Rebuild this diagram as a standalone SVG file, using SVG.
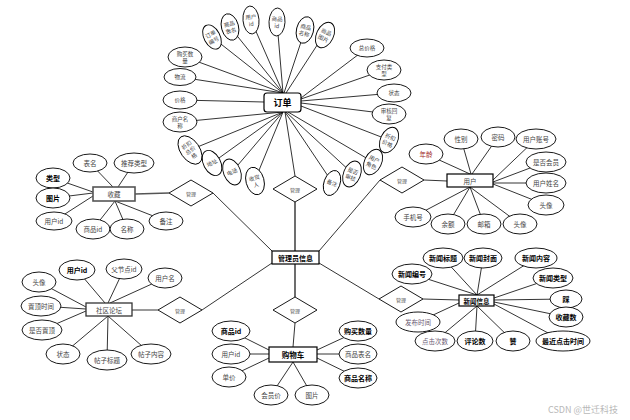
<svg xmlns="http://www.w3.org/2000/svg" width="630" height="420" viewBox="0 0 630 420">
<style>
ellipse{fill:#fff;stroke:#000;stroke-width:0.9}
.d{fill:#fff;stroke:#000;stroke-width:0.9}
text{font-family:"Noto Sans CJK SC","Noto Sans",sans-serif;text-anchor:middle;dominant-baseline:central}
.t{font-size:6.5px;fill:#444}
.s{font-size:5.5px;fill:#444}
.b{font-size:7px;fill:#000;font-weight:bold}
.m{font-size:5px;fill:#555}
.ln{stroke:#000;stroke-width:0.8;fill:none}
.lg{stroke:#555;stroke-width:1.7;fill:none}
.box{fill:#fff;stroke:#000;stroke-width:1.2}
</style>
<rect width="630" height="420" fill="#fff"/>
<g id="connectors">
<!-- 订单 -->
<path class="ln" d="M212,37L283,93M230,27L283,93M251,20L283,93M277,22L283,93M305,30L284,93M325,33L286,93M185,57L283,93M180,77L283,93M180,100L264,102"/>
<path class="ln" d="M180,122L283,112M190,150L283,112M212,163L283,112M232,172L283,112M255,180L283,112M332,182L285,112M352,173L286,112M373,162L288,112"/>
<path class="ln" d="M367,48L301,98M384,70L301,99M394,93L301,101M389,114L301,103M389,140L301,106"/>
<!-- 收藏 -->
<path class="ln" d="M90,163L113,187M134,163L118,187M53,178L93,192M53,198L93,193M54,221L93,196M93,229L115,201M127,229L115,201M166,221L115,201"/>
<!-- 用户 -->
<path class="ln" d="M426,154L470,174M461,139L471,174M498,137L472,174M536,139L493,180M546,162L493,182M546,183L493,183M546,205L493,184M413,217L470,187M448,224L470,187M484,224L470,187M520,224L470,187"/>
<!-- 社区论坛 -->
<path class="ln" d="M77,270L105,303M124,269L108,303M165,278L110,303M39,282L86,307M41,306L86,309M42,330L86,311M63,354L108,316M107,360L108,316M151,354L108,316"/>
<!-- 购物车 -->
<path class="ln" d="M231,331L269,350M231,354L269,354M229,377L269,358M271,395L293,362M312,395L293,362M358,331L317,350M358,354L317,354M358,378L317,358"/>
<!-- 新闻信息 -->
<path class="ln" d="M412,274L477,295M443,258L477,295M483,258L477,295M536,258L477,295M553,278L494,298M566,299L494,300M566,317L494,302M563,341L494,304M418,322L459,303M435,341L477,306M475,341L477,306M513,341L477,306"/>
<!-- 管理 -->
<path class="lg" d="M135,194L169,193"/>
<path class="ln" d="M285,112L295,176M447,181L424,180M132,310L158,310M293,347L295,323M459,300L423,299"/>
<path class="ln" d="M213,193L272,251M380,180L319,251M202,310L272,263M379,299L319,263"/>
<path class="lg" d="M295,202L295,251M295,263L295,297"/>
</g>
<g id="rel-dingdan"><polygon class="d" points="273,189 295,176 317,189 295,202"/><text class="m" x="295" y="189">管理</text></g>
<g id="rel-shoucang"><polygon class="d" points="169,193 191,180 213,193 191,206"/><text class="m" x="191" y="193">管理</text></g>
<g id="rel-yonghu"><polygon class="d" points="380,180 402,167 424,180 402,193"/><text class="m" x="402" y="180">管理</text></g>
<g id="rel-luntan"><polygon class="d" points="158,310 180,297 202,310 180,323"/><text class="m" x="180" y="310">管理</text></g>
<g id="rel-gouwuche"><polygon class="d" points="273,310 295,297 317,310 295,323"/><text class="m" x="295" y="310">管理</text></g>
<g id="rel-xinwen"><polygon class="d" points="379,299 401,286 423,299 401,312"/><text class="m" x="401" y="299">管理</text></g>

<g id="admin"><rect x="272" y="251" width="47" height="13" class="box" stroke-width="1.4"/><text class="b" x="295.5" y="257.5">管理员信息</text></g>

<g id="dingdan">
<rect x="264" y="93" width="37" height="19" rx="3" class="box" stroke-width="1.3"/><text class="b" x="282.5" y="102.5" style="font-size:9px">订单</text>
<g transform="translate(212,37) rotate(-28)"><ellipse rx="8" ry="13"/><text class="s" y="-3">订单</text><text class="s" y="4">编号</text></g>
<g transform="translate(230,27) rotate(-15)"><ellipse rx="8.5" ry="13.5"/><text class="s" y="-3">商品</text><text class="s" y="4">表名</text></g>
<g transform="translate(251,20) rotate(-5)"><ellipse rx="8" ry="14"/><text class="s" y="-3">用户</text><text class="s" y="4">id</text></g>
<g transform="translate(277,22) rotate(3)"><ellipse rx="8" ry="14"/><text class="s" y="-3">商品</text><text class="s" y="4">id</text></g>
<g transform="translate(305,30) rotate(14)"><ellipse rx="8.5" ry="13.5"/><text class="s" y="-3">商品</text><text class="s" y="4">名称</text></g>
<g transform="translate(325,35) rotate(25)"><ellipse rx="8.5" ry="13.5"/><text class="s" y="-3">商品</text><text class="s" y="4">图片</text></g>
<ellipse cx="367" cy="48" rx="17" ry="9"/><text class="s" x="367" y="48">总价格</text>
<ellipse cx="384" cy="70" rx="17" ry="10"/><text class="s" x="384" y="66.5">支付类</text><text class="s" x="384" y="73.5">型</text>
<ellipse cx="394" cy="93" rx="17" ry="9"/><text class="s" x="394" y="93">状态</text>
<ellipse cx="389" cy="114" rx="17" ry="10"/><text class="s" x="389" y="110.5">审核回</text><text class="s" x="389" y="117.5">复</text>
<g transform="translate(389,140) rotate(25)"><ellipse rx="8.5" ry="13.5"/><text class="s" y="-3">折扣</text><text class="s" y="4">价格</text></g>
<g transform="translate(373,162) rotate(25)"><ellipse rx="8.5" ry="13.5"/><text class="s" y="-3">用户</text><text class="s" y="4">角色</text></g>
<g transform="translate(352,174) rotate(22)"><ellipse rx="8.5" ry="13.5"/><text class="s" y="-3">是否</text><text class="s" y="4">审核</text></g>
<g transform="translate(332,183) rotate(20)"><ellipse rx="8" ry="13"/><text class="s">备注</text></g>
<g transform="translate(255,181) rotate(-15)"><ellipse rx="9" ry="14"/><text class="s" y="-3">收货</text><text class="s" y="4">人</text></g>
<g transform="translate(232,172) rotate(-22)"><ellipse rx="8.5" ry="13.5"/><text class="s">电话</text></g>
<g transform="translate(212,163) rotate(-28)"><ellipse rx="8.5" ry="13.5"/><text class="s">地址</text></g>
<g transform="translate(190,150) rotate(-35)"><ellipse rx="9.5" ry="16"/><text class="s" y="-6">折扣</text><text class="s" y="0.5">总价</text><text class="s" y="7">格</text></g>
<ellipse cx="180" cy="122" rx="17" ry="10"/><text class="s" x="180" y="118.5">商户名</text><text class="s" x="180" y="125.5">称</text>
<ellipse cx="180" cy="100" rx="17" ry="9"/><text class="s" x="180" y="100">价格</text>
<ellipse cx="180" cy="77" rx="16" ry="8.5"/><text class="s" x="180" y="77">物流</text>
<ellipse cx="185" cy="57" rx="17" ry="10"/><text class="s" x="185" y="53.5">购买数</text><text class="s" x="185" y="60.5">量</text>
</g>

<g id="shoucang">
<rect x="93" y="187" width="42" height="14" fill="#fff" stroke="#555" stroke-width="1.6"/><text class="t" x="114" y="194">收藏</text>
<ellipse cx="90" cy="163" rx="17" ry="9"/><text class="t" x="90" y="163">表名</text>
<ellipse cx="134" cy="163" rx="20" ry="10"/><text class="t" x="134" y="163">推荐类型</text>
<ellipse cx="53" cy="178" rx="17" ry="10"/><text class="b" x="53" y="178">类型</text>
<ellipse cx="53" cy="198" rx="17" ry="10"/><text class="b" x="53" y="198">图片</text>
<ellipse cx="54" cy="221" rx="18" ry="9"/><text class="t" x="54" y="221">用户id</text>
<ellipse cx="93" cy="229" rx="17" ry="10"/><text class="t" x="93" y="229">商品id</text>
<ellipse cx="127" cy="229" rx="17" ry="10"/><text class="t" x="127" y="229">名称</text>
<ellipse cx="166" cy="221" rx="17" ry="9"/><text class="t" x="166" y="221">备注</text>
</g>

<g id="yonghu">
<rect x="447" y="174" width="46" height="13" class="box" stroke-width="1"/><text class="t" x="470" y="180.5">用户</text>
<ellipse cx="426" cy="154" rx="17" ry="10"/><text class="t" x="426" y="154" style="fill:#a02828">年龄</text>
<ellipse cx="461" cy="139" rx="17" ry="10"/><text class="t" x="461" y="139">性别</text>
<ellipse cx="498" cy="137" rx="17" ry="10"/><text class="t" x="498" y="137">密码</text>
<ellipse cx="536" cy="139" rx="20" ry="10"/><text class="t" x="536" y="139">用户账号</text>
<ellipse cx="546" cy="162" rx="20" ry="10"/><text class="t" x="546" y="162">是否会员</text>
<ellipse cx="546" cy="183" rx="20" ry="10"/><text class="t" x="546" y="183">用户姓名</text>
<ellipse cx="546" cy="205" rx="18" ry="10"/><text class="t" x="546" y="205">头像</text>
<ellipse cx="413" cy="217" rx="18" ry="10"/><text class="t" x="413" y="217">手机号</text>
<ellipse cx="448" cy="224" rx="17" ry="10"/><text class="t" x="448" y="224">余额</text>
<ellipse cx="484" cy="224" rx="17" ry="10"/><text class="t" x="484" y="224">邮箱</text>
<ellipse cx="520" cy="224" rx="17" ry="10"/><text class="t" x="520" y="224">头像</text>
</g>

<g id="luntan">
<rect x="86" y="303" width="46" height="13" fill="#fff" stroke="#333" stroke-width="1.3"/><text class="t" x="109" y="309.5">社区论坛</text>
<ellipse cx="77" cy="270" rx="18" ry="10"/><text class="b" x="77" y="270">用户id</text>
<ellipse cx="124" cy="269" rx="18" ry="10"/><text class="t" x="124" y="269">父节点id</text>
<ellipse cx="165" cy="278" rx="17" ry="10"/><text class="t" x="165" y="278">用户名</text>
<ellipse cx="39" cy="282" rx="17" ry="10"/><text class="t" x="39" y="282">头像</text>
<ellipse cx="41" cy="306" rx="20" ry="10"/><text class="t" x="41" y="306">置顶时间</text>
<ellipse cx="42" cy="330" rx="20" ry="10"/><text class="t" x="42" y="330">是否置顶</text>
<ellipse cx="63" cy="354" rx="17" ry="10"/><text class="t" x="63" y="354">状态</text>
<ellipse cx="107" cy="360" rx="20" ry="10"/><text class="t" x="107" y="360">帖子标题</text>
<ellipse cx="151" cy="354" rx="20" ry="10"/><text class="t" x="151" y="354">帖子内容</text>
</g>

<g id="gouwuche">
<rect x="269" y="347" width="48" height="15" class="box" stroke-width="1.3"/><text class="b" x="293" y="354.5" style="font-size:7.5px">购物车</text>
<ellipse cx="231" cy="331" rx="19" ry="10"/><text class="b" x="231" y="331">商品id</text>
<ellipse cx="231" cy="354" rx="19" ry="10"/><text class="t" x="231" y="354">用户id</text>
<ellipse cx="229" cy="377" rx="17" ry="10"/><text class="t" x="229" y="377">单价</text>
<ellipse cx="271" cy="395" rx="17" ry="10"/><text class="t" x="271" y="395">会员价</text>
<ellipse cx="312" cy="395" rx="17" ry="10"/><text class="t" x="312" y="395">图片</text>
<ellipse cx="358" cy="331" rx="19" ry="10"/><text class="b" x="358" y="331">购买数量</text>
<ellipse cx="358" cy="354" rx="19" ry="10"/><text class="t" x="358" y="354">商品表名</text>
<ellipse cx="358" cy="378" rx="19" ry="10"/><text class="b" x="358" y="378">商品名称</text>
</g>

<g id="xinwen">
<rect x="459" y="295" width="35" height="11" class="box" stroke-width="1.5"/><text class="b" x="476.5" y="300.5" style="font-size:6.5px">新闻信息</text>
<ellipse cx="412" cy="274" rx="20" ry="10"/><text class="b" x="412" y="274">新闻编号</text>
<ellipse cx="443" cy="258" rx="20" ry="10"/><text class="b" x="443" y="258">新闻标题</text>
<ellipse cx="483" cy="258" rx="19" ry="10"/><text class="b" x="483" y="258">新闻封面</text>
<ellipse cx="536" cy="258" rx="21" ry="10"/><text class="b" x="536" y="258">新闻内容</text>
<ellipse cx="553" cy="278" rx="20" ry="10"/><text class="b" x="553" y="278">新闻类型</text>
<ellipse cx="566" cy="299" rx="16" ry="9"/><text class="b" x="566" y="299">踩</text>
<ellipse cx="566" cy="317" rx="17" ry="10"/><text class="b" x="566" y="317">收藏数</text>
<ellipse cx="418" cy="322" rx="22" ry="10"/><text class="t" x="418" y="322" style="fill:#6a5a72">发布时间</text>
<ellipse cx="435" cy="341" rx="20" ry="10"/><text class="t" x="435" y="341" style="fill:#6a5a72">点击次数</text>
<ellipse cx="475" cy="341" rx="18" ry="10"/><text class="b" x="475" y="341">评论数</text>
<ellipse cx="513" cy="341" rx="17" ry="10"/><text class="b" x="513" y="341">赞</text>
<ellipse cx="563" cy="341" rx="27" ry="10"/><text class="b" x="563" y="341">最近点击时间</text>
</g>

<text x="583" y="409" style="font-size:9px;fill:#b8b8b8">CSDN @世迁科技</text>
</svg>
